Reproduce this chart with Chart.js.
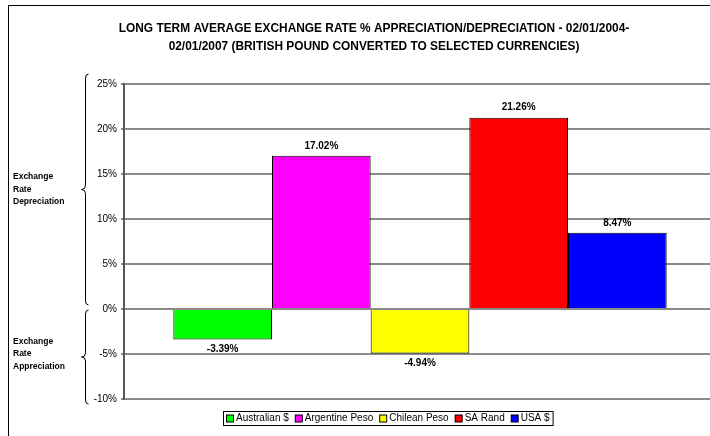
<!DOCTYPE html>
<html>
<head>
<meta charset="utf-8">
<script src="https://cdn.jsdelivr.net/npm/chart.js@4.4.1/dist/chart.umd.min.js"></script>
<style>
html,body{margin:0;padding:0;overflow:hidden;background:#fff;width:710px;height:436px;}
#wrap{position:absolute;left:0;top:0;width:748px;height:436px;}
</style>
</head>
<body>
<div id="wrap"><canvas id="c" width="748" height="436"></canvas></div>
<script>
const categories = [''];
const seriesNames = ['Australian $', 'Argentine Peso', 'Chilean Peso', 'SA Rand', 'USA $'];
const seriesValues = [-3.39, 17.02, -4.94, 21.26, 8.47];
const seriesColors = ['#00FF00', '#FF00FF', '#FFFF00', '#FF0000', '#0000FF'];
const yMin = -10, yMax = 25, yStep = 5;
const titleLines = ['LONG TERM AVERAGE EXCHANGE RATE % APPRECIATION/DEPRECIATION - 02/01/2004-',
                    '02/01/2007 (BRITISH POUND CONVERTED TO SELECTED CURRENCIES)'];
const upperNote = ['Exchange', 'Rate', 'Depreciation'];
const lowerNote = ['Exchange', 'Rate', 'Appreciation'];

const FONT = "'Liberation Sans', Arial, sans-serif";
Chart.defaults.font.family = FONT;
Chart.defaults.color = '#000';

const framePlugin = {
  id: 'frame',
  beforeDraw(chart) {
    const ctx = chart.ctx;
    ctx.save();
    ctx.fillStyle = '#fff';
    ctx.fillRect(0, 0, chart.width, chart.height);
    ctx.strokeStyle = '#000';
    ctx.lineWidth = 1;
    ctx.beginPath();
    ctx.moveTo(8.5, chart.height + 2);
    ctx.lineTo(8.5, 5.5);
    ctx.lineTo(chart.width + 2, 5.5);
    ctx.stroke();
    ctx.restore();
  }
};

function drawBrace(ctx, x, top, bottom, mid) {
  const r = 4;
  ctx.beginPath();
  ctx.moveTo(x + 3, top);
  ctx.quadraticCurveTo(x, top, x, top + r);
  ctx.lineTo(x, mid - r);
  ctx.quadraticCurveTo(x, mid, x - 4, mid);
  ctx.quadraticCurveTo(x, mid, x, mid + r);
  ctx.lineTo(x, bottom - r);
  ctx.quadraticCurveTo(x, bottom, x + 3, bottom);
  ctx.stroke();
}

const notePlugin = {
  id: 'notes',
  afterDraw(chart) {
    const ctx = chart.ctx;
    const y = chart.scales.y;
    ctx.save();
    ctx.strokeStyle = '#000';
    ctx.lineWidth = 1;
    const bx = 85.5;
    const uTop = y.getPixelForValue(yMax) - 10, uBot = y.getPixelForValue(0) - 4;
    const uMid = (uTop + uBot) / 2;
    drawBrace(ctx, bx, uTop, uBot, uMid);
    const lTop = y.getPixelForValue(0) + 1, lBot = y.getPixelForValue(yMin) + 5;
    const lMid = (lTop + lBot) / 2;
    drawBrace(ctx, bx, lTop, lBot, lMid);
    ctx.fillStyle = '#000';
    ctx.font = "bold 8.5px " + FONT;
    ctx.textAlign = 'left';
    ctx.textBaseline = 'middle';
    upperNote.forEach((t, i) => ctx.fillText(t, 13, uMid + (i - 1) * 12.5));
    lowerNote.forEach((t, i) => ctx.fillText(t, 13, lMid - 3 + (i - 1) * 12.5));

    // legend
    ctx.font = "10px " + FONT;
    const lx = 223, ly = 411, lh = 14, sq = 7, gapT = 3, gapI = 6;
    let w = 3;
    const widths = seriesNames.map(n => ctx.measureText(n).width);
    widths.forEach((tw, i) => { w += sq + gapT + tw + (i < widths.length - 1 ? gapI : 3); });
    ctx.fillStyle = '#fff';
    ctx.fillRect(lx, ly, w, lh);
    ctx.strokeRect(lx + 0.5, ly + 0.5, w, lh);
    let cx = lx + 3;
    const cy = ly + lh / 2 + 0.5;
    seriesNames.forEach((n, i) => {
      ctx.fillStyle = seriesColors[i];
      ctx.fillRect(cx + 0.5, cy - sq / 2, sq, sq);
      ctx.strokeRect(cx + 0.5, cy - sq / 2, sq, sq);
      ctx.fillStyle = '#000';
      ctx.fillText(n, cx + sq + gapT, cy);
      cx += sq + gapT + widths[i] + gapI;
    });
    ctx.restore();
  }
};

const labelPlugin = {
  id: 'vlabels',
  afterDatasetsDraw(chart) {
    const ctx = chart.ctx;
    ctx.save();
    ctx.font = "bold 10px " + FONT;
    ctx.fillStyle = '#000';
    ctx.textAlign = 'center';
    ctx.textBaseline = 'middle';
    chart.data.datasets.forEach((ds, i) => {
      const meta = chart.getDatasetMeta(i);
      meta.data.forEach((bar, j) => {
        const v = ds.data[j];
        const yy = v >= 0 ? bar.y - 10 : bar.y + 10;
        ctx.fillText(v.toFixed(2) + '%', bar.x, yy);
      });
    });
    ctx.restore();
  }
};

new Chart(document.getElementById('c'), {
  type: 'bar',
  data: {
    labels: categories,
    datasets: seriesNames.map((n, i) => ({
      label: n,
      data: [seriesValues[i]],
      backgroundColor: seriesColors[i],
      borderColor: '#000',
      borderWidth: 1,
      categoryPercentage: 5 / 6,
      barPercentage: 1
    }))
  },
  options: {
    responsive: false,
    animation: false,
    devicePixelRatio: 1,
    layout: { padding: { left: 32, right: 32, top: 0, bottom: 37 } },
    plugins: {
      legend: { display: false },
      tooltip: { enabled: false },
      title: {
        display: true,
        text: titleLines,
        color: '#000',
        font: { size: 11.9, weight: 'bold', lineHeight: '18px' },
        padding: { top: 20, bottom: 28 }
      }
    },
    scales: {
      x: { display: false },
      y: {
        min: yMin, max: yMax,
        afterFit(scale) { scale.width = 92; },
        ticks: {
          stepSize: yStep,
          padding: 4,
          color: '#000',
          font: { size: 10 },
          callback: v => v + '%'
        },
        grid: { color: '#8a8a8a', lineWidth: 2, tickLength: 3 },
        border: { display: true, color: '#555', width: 2 }
      }
    }
  },
  plugins: [framePlugin, labelPlugin, notePlugin]
});
</script>
</body>
</html>
